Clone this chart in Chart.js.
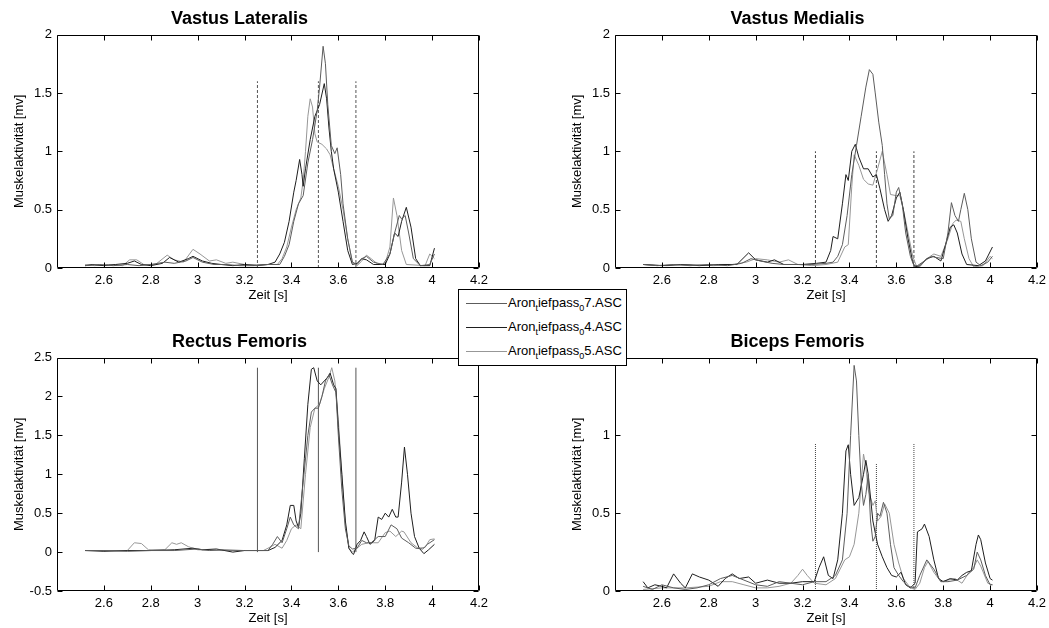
<!DOCTYPE html>
<html>
<head>
<meta charset="utf-8">
<title>EMG</title>
<script src="https://cdn.jsdelivr.net/npm/chart.js@4.4.0/dist/chart.umd.min.js"></script>
<style>
body{margin:0;background:#fff;width:1049px;height:628px;overflow:hidden;position:relative;font-family:Arial,"Liberation Sans",Helvetica,sans-serif}
canvas{position:absolute}
#legend{position:absolute;left:458px;top:289px;width:169px;height:77px;border:1px solid #000;background:#fff;box-sizing:border-box;font-size:13px;z-index:5}
#legend .row{position:absolute;left:0;right:0;height:16px;line-height:16px}
#legend .ln{position:absolute;left:7px;top:8px;width:41px;height:1px}
#legend .tx{position:absolute;left:49px;top:0;white-space:nowrap;color:#000}
#legend sub{font-size:9px;vertical-align:-4px;line-height:0}
</style>
</head>
<body>
<canvas id="c1" width="524" height="314" style="left:0;top:0"></canvas>
<canvas id="c2" width="524" height="314" style="left:558px;top:0"></canvas>
<canvas id="c3" width="524" height="314" style="left:0;top:323px"></canvas>
<canvas id="c4" width="524" height="314" style="left:558px;top:323px"></canvas>
<div id="legend"></div>
<script>
// x ticks shared by all four plots
var xTicks = [2.6, 2.8, 3, 3.2, 3.4, 3.6, 3.8, 4, 4.2];
var seriesNames = ['Aron_tiefpass_07.ASC', 'Aron_tiefpass_04.ASC', 'Aron_tiefpass_05.ASC'];
var seriesColors = ['#5c5c5c', '#1e1e1e', '#979797'];
var markTimes = [3.255, 3.515, 3.675];

// Vastus Lateralis  [t, mV]
var vl7 = [[2.52,0.02],[2.58,0.03],[2.64,0.02],[2.7,0.03],[2.75,0.02],[2.8,0.03],[2.86,0.05],[2.9,0.04],[2.95,0.06],[2.98,0.09],[3.02,0.05],[3.07,0.03],[3.12,0.03],[3.18,0.02],[3.24,0.02],[3.3,0.03],
  [3.35,0.03],[3.37,0.1],[3.39,0.2],[3.41,0.4],[3.43,0.55],[3.45,0.62],[3.47,0.9],[3.49,1.1],[3.51,1.35],[3.52,1.55],[3.535,1.9],[3.545,1.75],[3.555,1.4],[3.57,1.05],[3.585,0.98],[3.595,1.03],[3.61,0.8],[3.62,0.55],[3.64,0.25],[3.66,0.05],[3.68,0.03],[3.7,0.08],[3.72,0.1],[3.75,0.05],[3.79,0.03],[3.82,0.12],[3.84,0.3],[3.86,0.45],[3.87,0.42],[3.885,0.45],[3.9,0.3],[3.92,0.08],[3.95,0.02],[3.99,0.03],[4.01,0.12]];
var vl4 = [[2.52,0.02],[2.55,0.03],[2.6,0.02],[2.65,0.03],[2.7,0.04],[2.73,0.06],[2.76,0.03],[2.8,0.02],[2.85,0.04],[2.88,0.09],[2.92,0.05],[2.96,0.08],[2.98,0.1],[3.02,0.06],[3.06,0.04],[3.1,0.03],[3.15,0.02],[3.2,0.03],[3.25,0.02],[3.3,0.03],
  [3.33,0.05],[3.35,0.12],[3.37,0.22],[3.39,0.4],[3.41,0.65],[3.42,0.75],[3.435,0.93],[3.445,0.8],[3.45,0.7],[3.46,0.85],[3.48,1.1],[3.5,1.3],[3.52,1.4],[3.54,1.58],[3.55,1.45],[3.56,1.2],[3.57,1.0],[3.58,0.85],[3.6,0.65],[3.62,0.4],[3.64,0.15],[3.66,0.03],[3.68,0.04],[3.7,0.08],[3.72,0.07],[3.75,0.03],[3.8,0.03],[3.82,0.12],[3.84,0.3],[3.855,0.27],[3.87,0.4],[3.89,0.52],[3.91,0.35],[3.93,0.08],[3.95,0.02],[3.99,0.02],[4.01,0.17]];
var vl5 = [[2.52,0.03],[2.56,0.02],[2.62,0.03],[2.68,0.02],[2.71,0.07],[2.74,0.07],[2.77,0.03],[2.82,0.03],[2.87,0.11],[2.9,0.07],[2.94,0.05],[2.98,0.16],[3.01,0.12],[3.05,0.06],[3.08,0.07],[3.12,0.04],[3.15,0.05],[3.2,0.03],[3.25,0.03],[3.3,0.03],
  [3.34,0.03],[3.36,0.08],[3.38,0.18],[3.4,0.35],[3.42,0.5],[3.44,0.6],[3.45,0.75],[3.46,1.0],[3.47,1.3],[3.48,1.45],[3.49,1.38],[3.5,1.15],[3.51,1.08],[3.53,1.06],[3.55,1.02],[3.565,0.97],[3.58,0.85],[3.6,0.7],[3.62,0.5],[3.64,0.25],[3.66,0.05],[3.68,0.02],[3.7,0.06],[3.72,0.11],[3.74,0.08],[3.77,0.03],[3.8,0.04],[3.82,0.18],[3.835,0.6],[3.85,0.45],[3.87,0.15],[3.89,0.03],[3.97,0.02],[3.99,0.12],[4.01,0.08]];

// Vastus Medialis
var vm7 = [[2.52,0.03],[2.58,0.02],[2.65,0.03],[2.72,0.02],[2.8,0.03],[2.88,0.02],[2.94,0.04],[2.98,0.08],[3.02,0.06],[3.07,0.04],[3.12,0.03],[3.18,0.03],[3.24,0.03],[3.3,0.04],
  [3.33,0.05],[3.35,0.1],[3.37,0.2],[3.39,0.45],[3.41,0.8],[3.43,1.05],[3.45,1.3],[3.47,1.55],[3.485,1.7],[3.5,1.66],[3.51,1.5],[3.525,1.25],[3.54,1.05],[3.55,0.8],[3.56,0.55],[3.57,0.42],[3.585,0.45],[3.6,0.65],[3.61,0.69],[3.625,0.55],[3.64,0.3],[3.66,0.1],[3.675,0.02],[3.69,0.02],[3.72,0.06],[3.75,0.1],[3.77,0.09],[3.8,0.08],[3.82,0.3],[3.835,0.56],[3.85,0.45],[3.865,0.4],[3.875,0.5],[3.89,0.64],[3.905,0.5],[3.92,0.25],[3.94,0.05],[3.96,0.02],[3.99,0.05],[4.01,0.1]];
var vm4 = [[2.52,0.03],[2.6,0.02],[2.68,0.03],[2.76,0.02],[2.84,0.03],[2.92,0.03],[2.97,0.13],[3.0,0.07],[3.05,0.05],[3.08,0.07],[3.12,0.03],[3.2,0.03],[3.26,0.04],[3.3,0.05],
  [3.32,0.15],[3.33,0.27],[3.35,0.25],[3.37,0.55],[3.385,0.8],[3.395,0.75],[3.41,1.0],[3.425,1.06],[3.44,0.95],[3.46,0.85],[3.48,0.85],[3.5,0.78],[3.515,0.8],[3.53,0.68],[3.55,0.5],[3.565,0.4],[3.58,0.45],[3.6,0.6],[3.615,0.65],[3.63,0.5],[3.65,0.25],[3.67,0.05],[3.68,0.01],[3.7,0.02],[3.73,0.08],[3.76,0.1],[3.79,0.06],[3.81,0.2],[3.83,0.35],[3.845,0.37],[3.86,0.3],[3.88,0.12],[3.9,0.03],[3.95,0.02],[3.98,0.06],[4.01,0.18]];
var vm5 = [[2.52,0.03],[2.62,0.02],[2.72,0.03],[2.82,0.02],[2.9,0.03],[2.96,0.05],[3.0,0.08],[3.05,0.07],[3.1,0.05],[3.14,0.07],[3.18,0.03],[3.24,0.02],[3.3,0.03],
  [3.35,0.05],[3.38,0.18],[3.395,0.2],[3.41,0.7],[3.42,0.97],[3.44,0.88],[3.46,0.76],[3.48,0.72],[3.5,0.71],[3.52,0.85],[3.54,1.0],[3.56,0.8],[3.575,0.63],[3.6,0.62],[3.615,0.62],[3.63,0.5],[3.65,0.3],[3.67,0.1],[3.685,0.02],[3.7,0.01],[3.73,0.08],[3.76,0.12],[3.79,0.1],[3.82,0.25],[3.84,0.38],[3.855,0.41],[3.875,0.4],[3.89,0.25],[3.91,0.08],[3.93,0.01],[3.97,0.02],[4.0,0.1],[4.01,0.08]];

// Rectus Femoris
var rf7 = [[2.52,0.02],[2.6,0.02],[2.7,0.01],[2.8,0.02],[2.9,0.02],[3.0,0.04],[3.05,0.02],[3.1,0.03],[3.2,0.02],[3.3,0.02],
  [3.32,0.1],[3.34,0.2],[3.36,0.12],[3.38,0.3],[3.395,0.45],[3.41,0.35],[3.43,0.3],[3.45,0.9],[3.47,1.5],[3.485,1.8],[3.5,1.85],[3.515,1.85],[3.53,2.0],[3.545,2.2],[3.56,2.28],[3.575,2.15],[3.59,2.05],[3.6,1.5],[3.615,0.8],[3.63,0.3],[3.645,0.08],[3.66,0.04],[3.68,0.05],[3.7,0.15],[3.72,0.12],[3.74,0.12],[3.77,0.2],[3.8,0.2],[3.825,0.35],[3.85,0.3],[3.87,0.18],[3.9,0.12],[3.93,0.05],[3.96,0.04],[3.98,0.1],[4.01,0.16]];
var rf4 = [[2.52,0.02],[2.6,0.01],[2.7,0.02],[2.8,0.02],[2.9,0.03],[2.98,0.05],[3.02,0.03],[3.08,0.04],[3.15,0.0],[3.2,0.02],[3.25,0.02],[3.3,0.02],
  [3.33,0.06],[3.36,0.15],[3.38,0.35],[3.395,0.6],[3.41,0.6],[3.42,0.4],[3.43,0.32],[3.44,0.5],[3.455,1.2],[3.47,1.9],[3.485,2.35],[3.495,2.37],[3.51,2.2],[3.525,2.15],[3.54,2.2],[3.555,2.25],[3.565,2.3],[3.58,2.15],[3.59,2.1],[3.6,1.6],[3.615,1.0],[3.63,0.4],[3.645,0.05],[3.66,-0.02],[3.665,-0.03],[3.68,0.1],[3.695,0.15],[3.71,0.26],[3.72,0.2],[3.735,0.1],[3.755,0.15],[3.77,0.45],[3.785,0.42],[3.8,0.5],[3.815,0.45],[3.83,0.55],[3.845,0.45],[3.855,0.45],[3.87,0.9],[3.882,1.35],[3.895,1.0],[3.91,0.5],[3.925,0.2],[3.945,0.05],[3.965,-0.02],[3.985,0.03],[4.01,0.1]];
var rf5 = [[2.52,0.02],[2.7,0.02],[2.73,0.12],[2.76,0.11],[2.79,0.03],[2.86,0.03],[2.89,0.12],[2.91,0.1],[2.93,0.12],[2.96,0.07],[3.0,0.03],[3.1,0.02],[3.28,0.02],
  [3.3,0.05],[3.33,0.1],[3.36,0.05],[3.38,0.15],[3.4,0.3],[3.42,0.35],[3.44,0.3],[3.46,1.0],[3.48,1.6],[3.5,1.85],[3.52,1.9],[3.54,2.1],[3.56,2.25],[3.572,2.37],[3.585,2.2],[3.6,1.7],[3.615,1.0],[3.63,0.35],[3.645,0.05],[3.66,0.0],[3.68,0.05],[3.7,0.1],[3.73,0.12],[3.77,0.12],[3.8,0.25],[3.82,0.27],[3.845,0.2],[3.87,0.27],[3.88,0.26],[3.91,0.12],[3.94,0.05],[3.97,0.06],[3.99,0.16],[4.01,0.17]];

// Biceps Femoris
var bf7 = [[2.52,0.03],[2.56,0.01],[2.6,0.04],[2.65,0.02],[2.7,0.01],[2.75,0.02],[2.8,0.04],[2.85,0.08],[2.9,0.1],[2.95,0.07],[3.0,0.04],[3.05,0.03],[3.1,0.06],[3.15,0.05],[3.2,0.04],[3.25,0.06],[3.3,0.06],
  [3.34,0.1],[3.37,0.2],[3.39,0.5],[3.405,1.0],[3.42,1.45],[3.43,1.35],[3.44,1.0],[3.45,0.7],[3.46,0.55],[3.47,0.62],[3.48,0.75],[3.49,0.45],[3.5,0.32],[3.51,0.35],[3.52,0.5],[3.53,0.48],[3.545,0.57],[3.56,0.5],[3.575,0.3],[3.59,0.15],[3.61,0.1],[3.63,0.06],[3.65,0.03],[3.68,0.02],[3.7,0.1],[3.73,0.2],[3.76,0.14],[3.79,0.06],[3.82,0.06],[3.86,0.07],[3.9,0.1],[3.93,0.14],[3.945,0.25],[3.96,0.2],[3.98,0.1],[4.0,0.04],[4.01,0.04]];
var bf4 = [[2.52,0.06],[2.54,0.02],[2.57,0.04],[2.6,0.03],[2.62,0.02],[2.65,0.11],[2.68,0.05],[2.7,0.02],[2.73,0.11],[2.76,0.09],[2.8,0.07],[2.84,0.03],[2.87,0.08],[2.9,0.11],[2.93,0.08],[2.97,0.09],[3.0,0.05],[3.05,0.07],[3.1,0.05],[3.15,0.05],[3.2,0.06],[3.25,0.06],
  [3.27,0.15],[3.29,0.22],[3.31,0.1],[3.33,0.08],[3.35,0.2],[3.37,0.5],[3.385,0.9],[3.395,0.94],[3.405,0.75],[3.42,0.55],[3.44,0.6],[3.46,0.75],[3.47,0.84],[3.48,0.75],[3.5,0.45],[3.52,0.3],[3.54,0.22],[3.56,0.15],[3.58,0.1],[3.6,0.09],[3.62,0.12],[3.64,0.04],[3.66,0.02],[3.68,0.05],[3.69,0.38],[3.71,0.4],[3.72,0.43],[3.74,0.35],[3.76,0.2],[3.78,0.08],[3.8,0.06],[3.83,0.08],[3.86,0.07],[3.88,0.1],[3.9,0.12],[3.92,0.13],[3.94,0.3],[3.95,0.36],[3.96,0.33],[3.98,0.18],[4.0,0.08],[4.01,0.07]];
var bf5 = [[2.52,0.01],[2.6,0.02],[2.7,0.02],[2.8,0.03],[2.85,0.06],[2.9,0.06],[2.95,0.04],[3.0,0.02],[3.05,0.02],[3.1,0.03],[3.15,0.05],[3.18,0.1],[3.2,0.14],[3.22,0.1],[3.25,0.05],[3.3,0.04],
  [3.34,0.08],[3.38,0.2],[3.4,0.22],[3.42,0.3],[3.44,0.5],[3.46,0.88],[3.47,0.8],[3.48,0.65],[3.5,0.55],[3.51,0.58],[3.52,0.45],[3.535,0.48],[3.55,0.56],[3.57,0.5],[3.59,0.3],[3.61,0.18],[3.63,0.08],[3.66,0.02],[3.68,0.01],[3.7,0.05],[3.72,0.15],[3.735,0.19],[3.76,0.12],[3.79,0.06],[3.82,0.07],[3.85,0.08],[3.88,0.05],[3.91,0.12],[3.93,0.15],[3.945,0.2],[3.96,0.16],[3.99,0.05],[4.01,0.04]];

var fontFam = 'Arial, "Liberation Sans", Helvetica, sans-serif';

// box around plot area with inward ticks like the original
var framePlugin = {
  id: 'frame',
  afterDraw: function(chart) {
    var ctx = chart.ctx, a = chart.chartArea, xs = chart.scales.x, ys = chart.scales.y;
    var l = Math.round(a.left) + 0.5, r = Math.round(a.right) - 0.5, t = Math.round(a.top) + 0.5, b = Math.round(a.bottom) - 0.5;
    ctx.save();
    ctx.strokeStyle = '#000';
    ctx.lineWidth = 1;
    ctx.beginPath();
    ctx.rect(l, t, r - l, b - t);
    xs.ticks.forEach(function(tk) {
      var px = Math.round(xs.getPixelForValue(tk.value)) + 0.5;
      ctx.moveTo(px, b); ctx.lineTo(px, b - 5);
      ctx.moveTo(px, t); ctx.lineTo(px, t + 5);
    });
    ys.ticks.forEach(function(tk) {
      var py = Math.round(ys.getPixelForValue(tk.value)) + 0.5;
      ctx.moveTo(l, py); ctx.lineTo(l + 5, py);
      ctx.moveTo(r, py); ctx.lineTo(r - 5, py);
    });
    ctx.stroke();
    ctx.restore();
  }
};

function fmt(v) { return String(+Number(v).toFixed(1)); }

function makeChart(id, title, yMin, yMax, yTicks, traces, markH, markDash, markColor) {
  var datasets = [];
  traces.forEach(function(tr, i) {
    datasets.push({
      data: tr.map(function(p) { return {x: p[0], y: p[1]}; }),
      borderColor: seriesColors[i], borderWidth: 1, pointRadius: 0, tension: 0, fill: false
    });
  });
  markTimes.forEach(function(t, i) {
    datasets.push({
      data: [{x: t, y: 0}, {x: t, y: markH[i]}],
      borderColor: markColor, borderWidth: 1, borderDash: markDash, pointRadius: 0, fill: false
    });
  });
  return new Chart(document.getElementById(id), {
    type: 'line',
    data: {datasets: datasets},
    plugins: [framePlugin],
    options: {
      responsive: false, animation: false, events: [],
      layout: {padding: {left: 0, right: 45, top: 0, bottom: 0}},
      plugins: {
        legend: {display: false}, tooltip: {enabled: false},
        title: {display: true, text: title, color: '#000', font: {family: fontFam, size: 18, weight: 'bold'}, padding: {top: 8, bottom: 5}}
      },
      scales: {
        x: {
          type: 'linear', min: 2.4, max: 4.2,
          grid: {display: false, drawTicks: false}, border: {display: false},
          afterBuildTicks: function(s) { s.ticks = xTicks.map(function(v) { return {value: v}; }); },
          afterFit: function(s) { s.height = 46; },
          ticks: {color: '#000', padding: 5, maxRotation: 0, autoSkip: false, font: {family: fontFam, size: 13}, callback: fmt},
          title: {display: true, text: 'Zeit [s]', color: '#000', font: {family: fontFam, size: 13}, padding: {top: 0, bottom: 11}}
        },
        y: {
          min: yMin, max: yMax,
          grid: {display: false, drawTicks: false}, border: {display: false},
          afterBuildTicks: function(s) { s.ticks = yTicks.map(function(v) { return {value: v}; }); },
          afterFit: function(s) { s.width = 57; },
          ticks: {color: '#000', padding: 5, autoSkip: false, font: {family: fontFam, size: 13}, callback: fmt},
          title: {display: true, text: 'Muskelaktivität [mv]', color: '#000', font: {family: fontFam, size: 13}, padding: {top: 12, bottom: 0}}
        }
      }
    }
  });
}

makeChart('c1', 'Vastus Lateralis', 0, 2, [0, 0.5, 1, 1.5, 2], [vl7, vl4, vl5], [1.6, 1.6, 1.6], [3, 2], '#555');
makeChart('c2', 'Vastus Medialis', 0, 2, [0, 0.5, 1, 1.5, 2], [vm7, vm4, vm5], [1, 1, 1], [3, 2], '#444');
makeChart('c3', 'Rectus Femoris', -0.5, 2.5, [-0.5, 0, 0.5, 1, 1.5, 2, 2.5], [rf7, rf4, rf5], [2.37, 2.37, 2.37], [], '#555');
makeChart('c4', 'Biceps Femoris', 0, 1.5, [0, 0.5, 1], [bf7, bf4, bf5], [0.95, 0.82, 0.95], [1, 1], '#444');

// legend box (names use TeX-style subscripts like the original)
var leg = document.getElementById('legend');
seriesNames.forEach(function(name, i) {
  var parts = name.split('_');
  var html = parts[0];
  for (var k = 1; k < parts.length; k++) html += '<sub>' + parts[k].charAt(0) + '</sub>' + parts[k].slice(1);
  var row = document.createElement('div');
  row.className = 'row';
  row.style.top = (5 + i * 24) + 'px';
  row.innerHTML = '<span class="ln" style="background:' + seriesColors[i] + '"></span><span class="tx">' + html + '</span>';
  leg.appendChild(row);
});
</script>
</body>
</html>
